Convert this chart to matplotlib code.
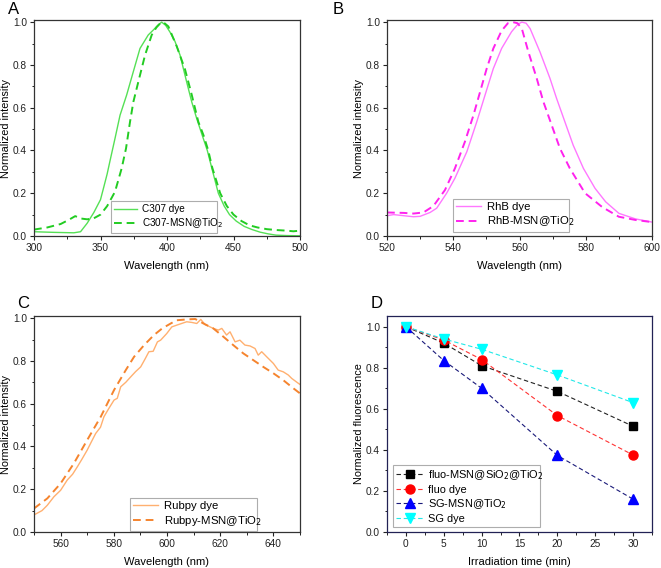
import matplotlib
matplotlib.use("Agg")
import matplotlib.pyplot as plt
from matplotlib.ticker import MultipleLocator, AutoMinorLocator

plt.rcParams['font.family'] = ['Liberation Sans', 'DejaVu Sans']

# ---------------- Panel A data ----------------
a_dye_x = [300, 315, 330, 335, 340, 345, 350, 352.1, 355, 357.1, 360.9, 364.7, 369.7, 374.7,
           379.7, 385.9, 390, 393, 396, 399, 402.3, 406, 409.8, 414.8, 418.6, 422.3, 426,
           430.3, 434, 438.6, 443, 447, 452, 458, 464, 470, 476, 482, 490, 500]
a_dye_y = [0.02, 0.017, 0.015, 0.02, 0.06, 0.11, 0.17, 0.22, 0.29, 0.35, 0.456, 0.565, 0.66, 0.769,
           0.877, 0.94, 0.965, 0.985, 1.0, 0.985, 0.953, 0.91, 0.846, 0.72, 0.627, 0.55, 0.48,
           0.4, 0.31, 0.2, 0.14, 0.1, 0.07, 0.045, 0.03, 0.018, 0.01, 0.004, 0.002, 0.001]
a_msn_x = [300, 310, 320, 326, 331, 335, 340, 345, 350, 355, 360.9, 365.9, 369.2, 372.2, 374.7,
           378.4, 383.5, 388.5, 392, 395, 397.2, 401, 407.3, 413.5, 418.6, 423.5, 427.5, 431,
           434, 437, 440, 445, 450, 456, 462, 468, 475, 482, 490, 495, 500]
a_msn_y = [0.03, 0.04, 0.056, 0.075, 0.093, 0.082, 0.078, 0.083, 0.10, 0.14, 0.207, 0.316, 0.41, 0.534, 0.627,
           0.72, 0.846, 0.94, 0.975, 0.995, 1.0, 0.98, 0.887, 0.78, 0.66, 0.535, 0.47, 0.4,
           0.32, 0.26, 0.2, 0.14, 0.1, 0.07, 0.05, 0.04, 0.032, 0.028, 0.025, 0.022, 0.025]

# ---------------- Panel B data ----------------
b_dye_x = [520, 522, 525, 528, 530, 533, 535, 538, 540.5, 544.1, 547.1, 549.6, 552.1, 554.6,
           557.6, 559.5, 560.7, 562, 563.2, 566.2, 569.2, 571.2, 573.7, 576.2, 579.3, 582.8,
           586, 590, 595, 600]
b_dye_y = [0.095, 0.10, 0.095, 0.09, 0.092, 0.11, 0.13, 0.2, 0.27, 0.394, 0.534, 0.659, 0.783, 0.877,
           0.955, 0.99, 1.0, 0.995, 0.97, 0.86, 0.737, 0.643, 0.534, 0.425, 0.316, 0.223,
           0.16, 0.106, 0.08, 0.065]
b_msn_x = [520, 525, 528, 531, 534, 537.5, 540.5, 543.5, 546.1, 548.1, 550.1, 552.1, 554.6,
           556.5, 558, 559.4, 560.7, 562.7, 565.2, 567.2, 569.7, 572.2, 575.2, 579.8, 585,
           590, 595, 600]
b_msn_y = [0.11, 0.108, 0.105, 0.11, 0.14, 0.215, 0.316, 0.44, 0.565, 0.674, 0.783, 0.877, 0.96,
           0.995, 1.0, 0.995, 0.97, 0.86, 0.737, 0.628, 0.519, 0.41, 0.316, 0.2, 0.135,
           0.09, 0.075, 0.065]

# ---------------- Panel C data ----------------
c_dye_x = [550, 553, 555, 557.5, 560, 562.5, 564.5, 566.3, 568, 570, 571.5, 573.2, 575, 576.3,
           578, 580.1, 581.3, 582.6, 584.5, 586.4, 588.2, 590.1, 591.8, 593.2, 594.8, 596.4,
           597.6, 599.9, 601.8, 603.6, 605.5, 607.4, 609.3, 611.2, 612.7, 614.3, 617.4, 619.3,
           620.6, 622.4, 623.7, 625.6, 627.4, 629.3, 631.2, 633.1, 634.3, 635.6, 637.5, 640,
           641.8, 643.7, 645.6, 646.9, 649.4, 650]
c_dye_y = [0.08, 0.10, 0.125, 0.165, 0.195, 0.243, 0.27, 0.305, 0.34, 0.383, 0.42, 0.461, 0.49, 0.539,
           0.575, 0.617, 0.625, 0.679, 0.70, 0.726, 0.75, 0.772, 0.81, 0.843, 0.845, 0.889,
           0.897, 0.928, 0.959, 0.967, 0.975, 0.983, 0.98, 0.975, 0.994, 0.97, 0.952, 0.944,
           0.952, 0.921, 0.936, 0.889, 0.897, 0.874, 0.87, 0.858, 0.827, 0.843, 0.819, 0.788,
           0.757, 0.749, 0.734, 0.718, 0.695, 0.69]
c_msn_x = [550, 555, 560, 565, 570, 575.1, 580.1, 584.5, 587.6, 591.4, 595.1, 598.2, 601.4,
           603.6, 607.4, 610.6, 613.7, 617.4, 621.2, 624.9, 628.7, 632.4, 636.2, 640, 643.7,
           647.5, 650]
c_msn_y = [0.11, 0.157, 0.227, 0.321, 0.43, 0.539, 0.664, 0.757, 0.819, 0.874, 0.921, 0.952, 0.975,
           0.99, 0.994, 0.996, 0.975, 0.952, 0.913, 0.874, 0.835, 0.804, 0.772, 0.742, 0.71,
           0.672, 0.648]

# ---------------- Panel D data ----------------
d_time = [0, 5, 10, 20, 30]
d_fluo_msn = [1.0, 0.92, 0.81, 0.685, 0.515]
d_fluo_dye = [1.0, 0.935, 0.84, 0.567, 0.375]
d_sg_msn = [1.0, 0.835, 0.70, 0.373, 0.16]
d_sg_dye = [1.0, 0.94, 0.89, 0.765, 0.63]

W, H = 661, 568
fig = plt.figure(figsize=(W / 100, H / 100), dpi=100)

def ax_at(l, t, r, b):
    return fig.add_axes([l / W, 1 - b / H, (r - l) / W, (b - t) / H])

axA = ax_at(34, 20, 300, 236)
axB = ax_at(387, 20, 652, 236)
axC = ax_at(34, 316, 300, 532)
axD = ax_at(387, 316, 652, 532)

TICK_FS = 7.3
LAB_FS = 8.0

def style(ax, ylab_x, frame="#333333", xlabel='Wavelength (nm)', ylabel='Normalized intensity'):
    for s in ax.spines.values():
        s.set_color(frame)
        s.set_linewidth(0.9)
    ax.tick_params(axis='both', which='major', direction='out', length=3, width=0.8,
                   labelsize=TICK_FS, colors='#222222', top=False, right=False, pad=2)
    ax.tick_params(axis='both', which='minor', direction='out', length=1.8, width=0.7,
                   top=False, right=False, colors='#222222')
    ax.yaxis.set_major_locator(MultipleLocator(0.2))
    ax.yaxis.set_minor_locator(AutoMinorLocator(2))
    ax.xaxis.set_minor_locator(AutoMinorLocator(2))
    ax.set_xlabel(xlabel, fontsize=LAB_FS)
    ax.set_ylabel(ylabel, fontsize=7.8)
    ax.yaxis.set_label_coords(ylab_x, 0.5)
    ax.xaxis.set_label_coords(0.5, -0.115)

def leg(ax, bbox, fs, hl):
    lg = ax.legend(loc='lower left', bbox_to_anchor=bbox, mode='expand', fontsize=fs,
                   frameon=True, fancybox=False, borderaxespad=0, handlelength=hl,
                   borderpad=0.3, labelspacing=0.2, handletextpad=0.5)
    lg.get_frame().set_edgecolor('#999999')
    lg.get_frame().set_linewidth(0.8)
    return lg

# Panel A
axA.plot(a_dye_x, a_dye_y, color='#55e055', lw=1.0, label='C307 dye')
axA.plot(a_msn_x, a_msn_y, color='#22cc22', lw=1.4, ls=(0, (4, 2.5)), label='C307-MSN@TiO$_2$')
axA.set_xlim(300, 500)
axA.set_ylim(0, 1.01)
axA.xaxis.set_major_locator(MultipleLocator(50))
style(axA, -0.085)
leg(axA, (0.289, 0.014, 0.399, 0.125), 7.2, 2.3)

# Panel B
axB.plot(b_dye_x, b_dye_y, color='#ff77ff', lw=1.0, label='RhB dye')
axB.plot(b_msn_x, b_msn_y, color='#ff22ee', lw=1.4, ls=(0, (4, 2.5)), label='RhB-MSN@TiO$_2$')
axB.set_xlim(520, 600)
axB.set_ylim(0, 1.01)
axB.xaxis.set_major_locator(MultipleLocator(20))
style(axB, -0.088)
leg(axB, (0.249, 0.019, 0.438, 0.143), 8.2, 2.2)

# Panel C
axC.plot(c_dye_x, c_dye_y, color='#ffb070', lw=1.0, label='Rubpy dye')
axC.plot(c_msn_x, c_msn_y, color='#f5842e', lw=1.4, ls=(0, (4, 2.5)), label='Rubpy-MSN@TiO$_2$')
axC.set_xlim(550, 650)
axC.set_ylim(0, 1.01)
axC.xaxis.set_major_locator(MultipleLocator(20))
style(axC, -0.085)
leg(axC, (0.361, 0.005, 0.477, 0.148), 8.2, 2.2)

# Panel D
ds = (0, (4, 2.5))
axD.plot(d_time, d_fluo_msn, color='#222222', lw=0.8, ls=ds, marker='s', ms=6,
         mfc='black', mec='black', label='fluo-MSN@SiO$_2$@TiO$_2$')
axD.plot(d_time, d_fluo_dye, color='#ff3333', lw=0.8, ls=ds, marker='o', ms=6.5,
         mfc='red', mec='red', label='fluo dye')
axD.plot(d_time, d_sg_msn, color='#1a1a7a', lw=0.8, ls=ds, marker='^', ms=7,
         mfc='blue', mec='blue', label='SG-MSN@TiO$_2$')
axD.plot(d_time, d_sg_dye, color='#22e8e8', lw=0.8, ls=ds, marker='v', ms=7,
         mfc='#00ffff', mec='#00ffff', label='SG dye')
axD.set_xlim(-2.5, 32.5)
axD.set_ylim(0, 1.052)
axD.xaxis.set_major_locator(MultipleLocator(5))
style(axD, -0.088, frame='#222255', xlabel='Irradiation time (min)', ylabel='Normalized fluorescence')
lgD = axD.legend(loc='lower left', bbox_to_anchor=(0.023, 0.023, 0.554, 0.292), mode='expand',
                 fontsize=7.9, frameon=True, fancybox=False, borderaxespad=0, handlelength=2.4,
                 borderpad=0.3, labelspacing=0.25, handletextpad=0.5)
lgD.get_frame().set_edgecolor('#999999')
lgD.get_frame().set_linewidth(0.8)

# Panel letters
fig.text(8 / W, 1 - 10 / H, 'A', fontsize=12, va='center', ha='left')
fig.text(333 / W, 1 - 10 / H, 'B', fontsize=12, va='center', ha='left')
fig.text(17 / W, 1 - 303 / H, 'C', fontsize=12, va='center', ha='left')
fig.text(371 / W, 1 - 303 / H, 'D', fontsize=12, va='center', ha='left')

fig.savefig('out.png', dpi=100)
